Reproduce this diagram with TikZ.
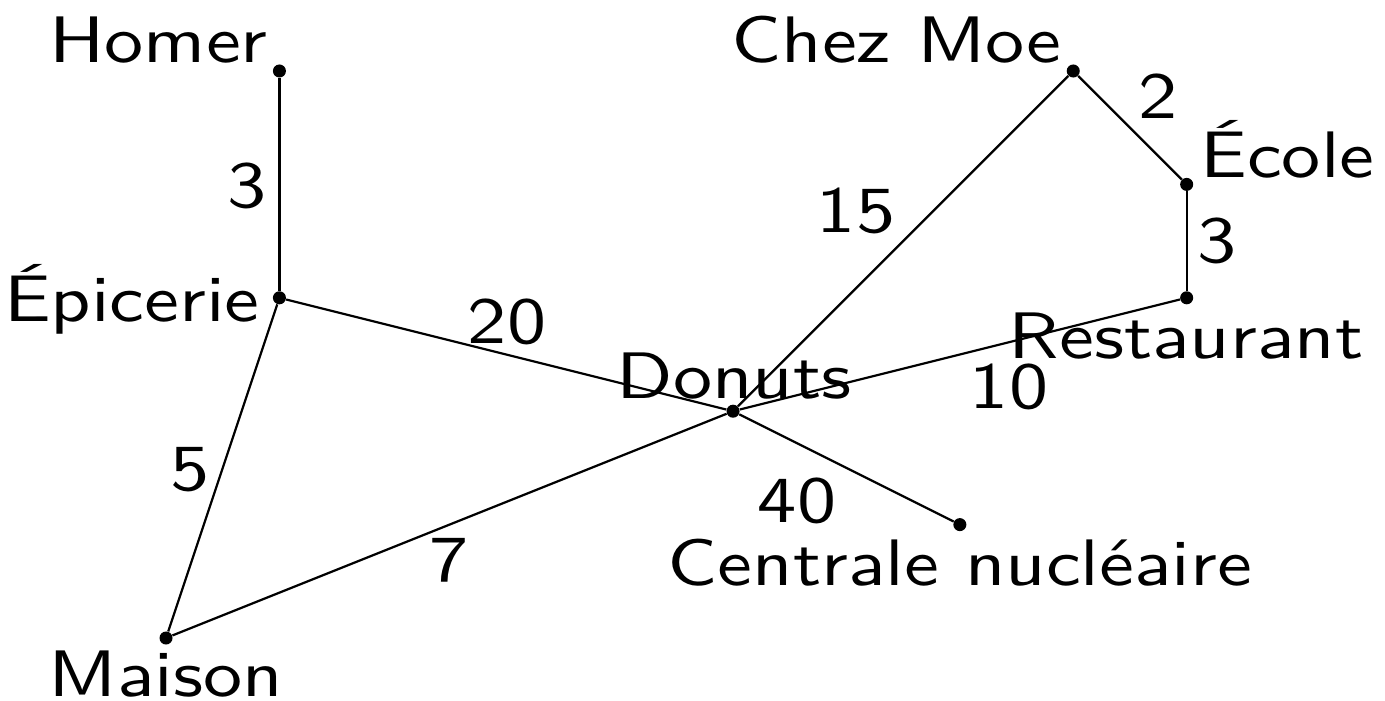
\documentclass[tikz,border=0pt]{standalone}
\usepackage{fontspec}
\setsansfont{lmsans10-regular.otf}[FakeStretch=1.19]
\usetikzlibrary{calc}
\tikzset{
  dotnode/.style={circle,fill=black,inner sep=0pt,minimum size=0.23cm},
  edge/.style={line width=1.1pt},
  txt/.style={inner sep=0pt,font=\sffamily\fontsize{33}{39}\selectfont},
}
\begin{document}
\begin{tikzpicture}[x=2cm,y=2cm]
\useasboundingbox (-1.464,-0.547) rectangle (10.749,5.626);
% vertices
\node[dotnode] (maison) at (0,0) {};
\node[dotnode] (epicerie) at (1,3) {};
\node[dotnode] (homer) at (1,5) {};
\node[dotnode] (donuts) at (5,2) {};
\node[dotnode] (centrale) at (7,1) {};
\node[dotnode] (chezmoe) at (8,5) {};
\node[dotnode] (ecole) at (9,4) {};
\node[dotnode] (restaurant) at (9,3) {};
% edges
\draw[edge] (homer) -- (epicerie);
\draw[edge] (epicerie) -- (donuts);
\draw[edge] (epicerie) -- (maison);
\draw[edge] (maison) -- (donuts);
\draw[edge] (donuts) -- (chezmoe);
\draw[edge] (donuts) -- (restaurant);
\draw[edge] (donuts) -- (centrale);
\draw[edge] (chezmoe) -- (ecole);
\draw[edge] (ecole) -- (restaurant);
% vertex names
\node[txt,anchor=base east] (thomer) at (0.899,5.071) {Homer};
\node[txt,anchor=base east] (tchez) at (7.901,5.071) {Chez Moe};
\node[txt,anchor=base west] (tecole) at (9.118,4.065) {École};
\node[txt,anchor=base east] (tepic) at (0.829,2.787) {Épicerie};
\node[txt,anchor=base] (trest) at (8.995,2.469) {Restaurant};
\node[txt,anchor=base] (tdon) at (5.009,2.116) {Donuts};
\node[txt,anchor=base] (tcent) at (7.002,0.459) {Centrale nucléaire};
\node[txt,anchor=base] (tmai) at (0,-0.52) {Maison};
% weights
\node[txt,anchor=base] (w1) at (0.714,3.792) {3};
\node[txt,anchor=base] (w2) at (3.007,2.601) {20};
\node[txt,anchor=base] (w3) at (6.085,3.580) {15};
\node[txt,anchor=base] (w4) at (8.748,4.577) {2};
\node[txt,anchor=base] (w5) at (9.268,3.307) {3};
\node[txt,anchor=base] (w6) at (7.434,2.028) {10};
\node[txt,anchor=base] (w7) at (5.564,1.023) {40};
\node[txt,anchor=base] (w8) at (0.212,1.305) {5};
\node[txt,anchor=base] (w9) at (2.496,0.494) {7};
\end{tikzpicture}
\end{document}
